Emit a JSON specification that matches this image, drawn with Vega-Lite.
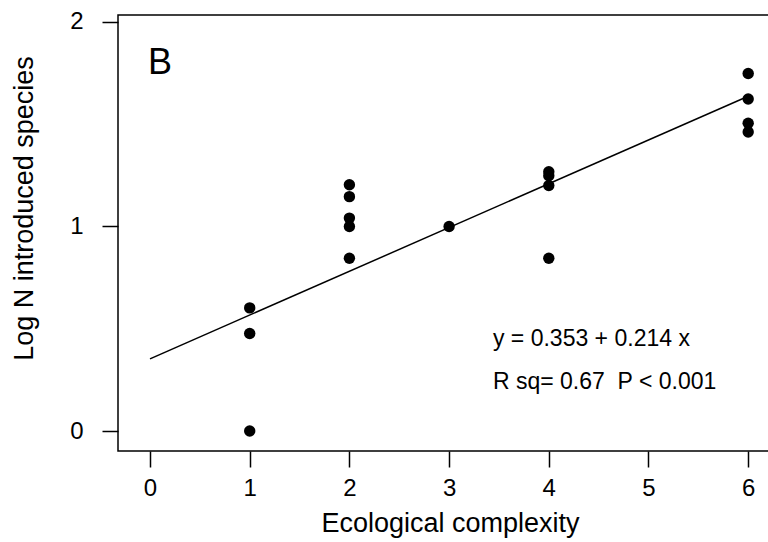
{
  "$schema": "https://vega.github.io/schema/vega-lite/v6.json",
  "width": 660,
  "height": 436,
  "autosize": "none",
  "padding": {"left": 118, "top": 15, "right": 0, "bottom": 91},
  "background": "white",
  "config": {
    "font": "Liberation Sans",
    "view": {"stroke": "black", "strokeWidth": 1.5},
    "axis": {
      "grid": false,
      "domain": false,
      "tickColor": "black",
      "tickWidth": 1.5,
      "tickSize": 16,
      "labelColor": "black",
      "labelFontSize": 24,
      "labelFont": "Liberation Sans",
      "titleFont": "Liberation Sans",
      "titleFontSize": 27,
      "titleFontWeight": "normal",
      "titleColor": "black"
    }
  },
  "datasets": {
    "points": [
      {"complexity": 1, "logN": 0.602},
      {"complexity": 1, "logN": 0.477},
      {"complexity": 1, "logN": 0.0},
      {"complexity": 2, "logN": 1.204},
      {"complexity": 2, "logN": 1.146},
      {"complexity": 2, "logN": 1.041},
      {"complexity": 2, "logN": 1.0},
      {"complexity": 2, "logN": 0.845},
      {"complexity": 3, "logN": 1.0},
      {"complexity": 4, "logN": 1.268},
      {"complexity": 4, "logN": 1.248},
      {"complexity": 4, "logN": 1.2},
      {"complexity": 4, "logN": 0.845},
      {"complexity": 6, "logN": 1.748},
      {"complexity": 6, "logN": 1.623},
      {"complexity": 6, "logN": 1.505},
      {"complexity": 6, "logN": 1.462}
    ],
    "fit": [
      {"complexity": 0, "logN": 0.353},
      {"complexity": 6, "logN": 1.637}
    ]
  },
  "layer": [
    {
      "data": {"name": "fit"},
      "mark": {"type": "line", "color": "black", "strokeWidth": 1.5},
      "encoding": {
        "x": {
          "field": "complexity", "type": "quantitative",
          "scale": {"domain": [-0.321, 6.299], "nice": false, "zero": false},
          "axis": {
            "values": [0, 1, 2, 3, 4, 5, 6],
            "format": "d",
            "labelPadding": 9,
            "title": "Ecological complexity",
            "titleX": 332,
            "titleY": 72,
            "titleBaseline": "middle",
            "titleAlign": "center"
          }
        },
        "y": {
          "field": "logN", "type": "quantitative",
          "scale": {"domain": [-0.0976, 2.034], "nice": false, "zero": false},
          "axis": {
            "values": [0, 1, 2],
            "format": "d",
            "labelPadding": 19,
            "title": "Log N introduced species",
            "titleX": -94,
            "titleY": 193,
            "titleAngle": -90,
            "titleBaseline": "middle",
            "titleAlign": "center"
          }
        }
      }
    },
    {
      "data": {"name": "points"},
      "mark": {"type": "circle", "color": "black", "opacity": 1, "size": 130},
      "encoding": {
        "x": {"field": "complexity", "type": "quantitative"},
        "y": {"field": "logN", "type": "quantitative"}
      }
    },
    {
      "data": {"values": [{}]},
      "mark": {"type": "text", "text": "B", "fontSize": 36, "align": "center", "baseline": "middle", "color": "black"},
      "encoding": {"x": {"datum": 0.1}, "y": {"datum": 1.8}}
    },
    {
      "data": {"values": [{}]},
      "mark": {"type": "text", "text": "y = 0.353 + 0.214 x", "fontSize": 23, "align": "left", "baseline": "middle", "color": "black"},
      "encoding": {"x": {"datum": 3.44}, "y": {"datum": 0.449}}
    },
    {
      "data": {"values": [{}]},
      "mark": {"type": "text", "text": "R sq= 0.67\u00a0 P < 0.001", "fontSize": 23, "align": "left", "baseline": "middle", "color": "black"},
      "encoding": {"x": {"datum": 3.44}, "y": {"datum": 0.239}}
    }
  ]
}
